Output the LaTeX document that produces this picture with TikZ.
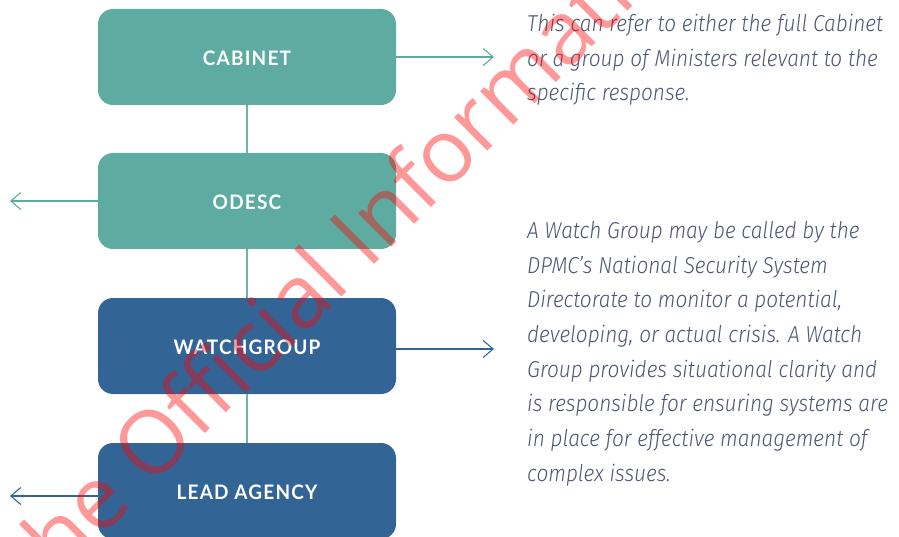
\documentclass[tikz,border=0pt]{standalone}
\usepackage{fontspec}
\usetikzlibrary{arrows.meta}
\setmainfont{Fira Sans Light}[ItalicFont={Fira Sans Light Italic},FakeStretch=0.905]
\newfontfamily\stagefont{Lato}[LetterSpace=6,FakeStretch=0.95]
\newfontfamily\stampfont{Open Sans}
\definecolor{tealbox}{HTML}{5EACA1}
\definecolor{bluebox}{HTML}{336496}
\definecolor{noteink}{HTML}{4A5672}
\begin{document}
\begin{tikzpicture}[x=1pt,y=-1pt,
  stage/.style={rectangle,rounded corners=15pt,minimum width=298pt,minimum height=96pt,
    inner sep=0pt,text=white,text height=17.4pt,text depth=0pt,
    font=\stagefont\bfseries\fontsize{20}{20}\selectfont},
  link/.style={draw=tealbox!90,line width=1.1pt},
  pointer/.style={line width=1.1pt,-{Straight Barb[length=10pt,width=17pt,line width=1.1pt]}},
  note/.style={anchor=north west,inner sep=0pt,align=left,text=noteink,
    font=\itshape\fontsize{23}{34.7}\selectfont}]
  \useasboundingbox (0,0) rectangle (899,537);

  % Stages of the response
  \node[stage,fill=tealbox] (cabinet) at (247,57) {CABINET};
  \node[stage,fill=tealbox] (odesc) at (247,201) {ODESC};
  \node[stage,fill=bluebox] (watch) at (247,346) {WATCHGROUP};
  \node[stage,fill=bluebox] (lead) at (247,491) {LEAD AGENCY};

  % Chain between the stages
  \draw[link] (cabinet) -- (odesc);
  \draw[link] (odesc) -- (watch);
  \draw[link] (watch) -- (lead);

  % Side arrows
  \coordinate (cabinet-tip) at (494,57);
  \coordinate (odesc-tip) at (10,201);
  \coordinate (watch-tip) at (494,349);
  \coordinate (lead-tip) at (10,496);
  \draw[pointer,tealbox] (cabinet.east |- cabinet-tip) -- (cabinet-tip);
  \draw[pointer,tealbox] (odesc.west |- odesc-tip) -- (odesc-tip);
  \draw[pointer,bluebox] (watch.east |- watch-tip) -- (watch-tip);
  \draw[pointer,bluebox] (lead.west |- lead-tip) -- (lead-tip);

  % Notes
  \node[note] (cabinet-note) at (527,14) {This can refer to either the full Cabinet\\
    or a group of Ministers relevant to the\\
    specific response.};
  \node[note] (watch-note) at (527,221) {A Watch Group may be called by the\\
    DPMC’s National Security System\\
    Directorate to monitor a potential,\\
    developing, or actual crisis. A Watch\\
    Group provides situational clarity and\\
    is responsible for ensuring systems are\\
    in place for effective management of\\
    complex issues.};

  % Stamp across the page
  \begin{scope}
    \clip (0,0) rectangle (899,537);
    \node[anchor=base west,rotate=45,inner sep=0pt,text=red,text opacity=0.4,
      font=\stampfont\fontsize{88}{88}\selectfont] (stamp) at (39,600) {the Official Information};
  \end{scope}
\end{tikzpicture}
\end{document}
